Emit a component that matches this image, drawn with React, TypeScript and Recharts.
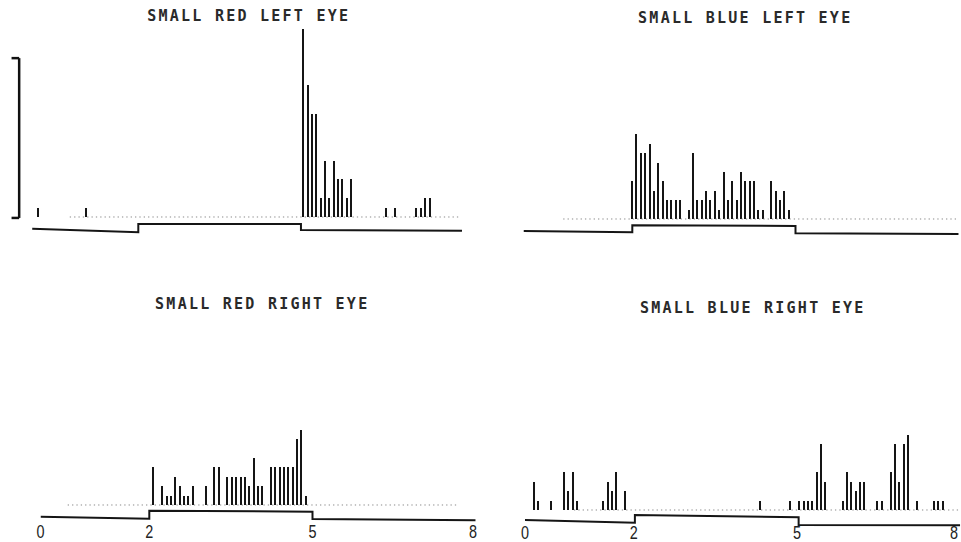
import React from "react"
import { Bar, ComposedChart, Line, ReferenceLine, XAxis, YAxis } from "recharts"

// 0.08 s bins, 8 s sweep, stimulus on from 2 s to 5 s
const BIN = 0.08
const tickLabels = [0, 2, 5, 8]

const redLeftBins = [2, 13, 63, 64, 65, 66, 67, 68, 69, 70, 71, 72, 73, 74, 82, 84, 89, 90, 91, 92]
const redLeftCounts = [1, 1, 20, 14, 11, 11, 2, 6, 2, 6, 4, 4, 2, 4, 1, 1, 1, 1, 2, 2]

const blueLeftBins = [
  25, 26, 27, 28, 29, 30, 31, 32, 33, 34, 35, 36,
  38, 39, 40, 41, 42, 43, 44, 45, 46, 47, 48, 49, 50, 51, 52, 53, 54, 55,
  57, 58, 59, 60, 61,
]
const blueLeftCounts = [
  4, 9, 7, 7, 8, 3, 6, 4, 2, 2, 2, 2,
  1, 7, 2, 2, 3, 2, 3, 1, 5, 2, 4, 2, 5, 4, 4, 4, 1, 1,
  4, 3, 2, 3, 1,
]

const redRightBins = [
  26, 28, 29, 30, 31, 32, 33, 34, 35, 38, 40, 41,
  43, 44, 45, 46, 47, 48, 49, 50, 51,
  53, 54, 55, 56, 57, 58, 59, 60, 61,
]
const redRightCounts = [
  4, 2, 1, 1, 3, 2, 1, 1, 2, 2, 4, 4,
  3, 3, 3, 3, 3, 2, 5, 2, 2,
  4, 4, 4, 4, 4, 4, 7, 8, 1,
]

const blueRightBins = [
  2, 3, 6, 9, 10, 11, 12, 18, 19, 20, 21, 23,
  54, 61, 63, 64, 65, 66, 67, 68, 69,
  73, 74, 75, 76, 77, 78, 81, 82, 84, 85, 86, 87, 88, 90, 94, 95, 96,
]
const blueRightCounts = [
  3, 1, 1, 4, 2, 4, 1, 1, 3, 2, 4, 2,
  1, 1, 1, 1, 1, 1, 4, 7, 3,
  1, 4, 3, 2, 3, 3, 1, 1, 4, 7, 3, 7, 8, 1, 1, 1, 1,
]

// stimulus monitor trace (seconds, level below the baseline in count units)
const redLeftTraceT = [0.05, 2, 2, 4.99, 4.99, 7.95]
const redLeftTraceV = [-1.24, -1.63, -0.74, -0.74, -1.38, -1.46]
const blueLeftTraceT = [0, 2, 2, 5, 5, 8]
const blueLeftTraceV = [-1.28, -1.41, -0.67, -0.74, -1.52, -1.6]
const redRightTraceT = [0, 2, 2, 5, 5, 8]
const redRightTraceV = [-1.24, -1.46, -0.61, -0.71, -1.49, -1.63]
const blueRightTraceT = [0, 2.02, 2.02, 5.03, 5.03, 8]
const blueRightTraceV = [-1.06, -1.35, -0.53, -0.78, -1.6, -1.63]

const SCALE_BAR = 16.9

const PX_PER_S = 54.4
const PX_PER_COUNT = 9.4
const Y_MIN = -2
const Y_MAX = 20

function Spike(props: any) {
  const { x, y, width, height, fill } = props
  if (!height) return null
  const cx = Math.round(x + width / 2)
  const top = Math.round(y)
  const bottom = Math.round(y + height)
  return <rect x={cx - 1} y={top} width={2} height={bottom - top} fill={fill} />
}

function DigitTick(props: any) {
  const { x, y, payload, dy, maxX } = props
  // keep the last digit inside the page
  const tx = maxX ? Math.min(x, maxX) : x
  return (
    <text
      x={0}
      y={0}
      transform={`translate(${tx},${y + (dy ?? 13)}) scale(0.8,1)`}
      textAnchor="middle"
      fontFamily="Liberation Sans"
      fontSize={18}
      fill="#222"
    >
      {payload.value}
    </text>
  )
}

type PanelProps = {
  title: string
  bins: number[]
  counts: number[]
  traceT: number[]
  traceV: number[]
  dots: [number, number]
  x0: number
  baseline: number
  left: number
  width: number
  titleX: number
  titleY: number
  showTicks?: boolean
  tickDy?: number
  scaleBar?: boolean
}

function Panel(p: PanelProps) {
  const data = p.bins.map((b, i) => ({ t: b * BIN, n: p.counts[i] }))
  const trace = p.traceT.map((t, i) => ({ t, v: p.traceV[i] }))
  const plotH = (Y_MAX - Y_MIN) * PX_PER_COUNT
  const top = p.baseline - Y_MAX * PX_PER_COUNT
  const axisH = p.showTicks ? 22 : 0
  const mLeft = p.x0 - p.left
  const mRight = p.width - mLeft - 8 * PX_PER_S

  return (
    <>
      <div
        style={{
          position: "absolute",
          left: p.titleX - 170,
          top: p.titleY,
          width: 340,
          textAlign: "center",
          fontFamily: "DejaVu Sans Mono",
          fontWeight: "bold",
          fontSize: 15,
          lineHeight: "15px",
          letterSpacing: 2.25,
          paddingLeft: 2.25,
          color: "#2a2a2a",
        }}
      >
        {p.title}
      </div>
      <div style={{ position: "absolute", left: p.left, top }}>
        <ComposedChart
          width={p.width}
          height={plotH + axisH}
          data={data}
          margin={{ top: 0, bottom: 0, left: mLeft, right: mRight }}
        >
          <XAxis
            type="number"
            dataKey="t"
            domain={[0, 8]}
            ticks={tickLabels}
            interval={0}
            hide={!p.showTicks}
            axisLine={false}
            tickLine={false}
            tickSize={0}
            tickMargin={0}
            height={axisH}
            tick={<DigitTick dy={p.tickDy} maxX={p.width - 7} />}
            allowDataOverflow
          />
          <YAxis type="number" domain={[Y_MIN, Y_MAX]} hide allowDataOverflow />
          <ReferenceLine
            segment={[
              { x: p.dots[0], y: 0 },
              { x: p.dots[1], y: 0 },
            ]}
            stroke="#8a8a8a"
            strokeWidth={1}
            strokeDasharray="1.3 3.05"
          />
          {p.scaleBar && (
            <ReferenceLine
              segment={[
                { x: -0.19, y: -0.1 },
                { x: -0.19, y: SCALE_BAR },
              ]}
              stroke="#111"
              strokeWidth={2.5}
              ifOverflow="visible"
            />
          )}
          {p.scaleBar && (
            <ReferenceLine
              segment={[
                { x: -0.33, y: SCALE_BAR },
                { x: -0.19, y: SCALE_BAR },
              ]}
              stroke="#111"
              strokeWidth={2.5}
              ifOverflow="visible"
            />
          )}
          {p.scaleBar && (
            <ReferenceLine
              segment={[
                { x: -0.33, y: -0.1 },
                { x: -0.19, y: -0.1 },
              ]}
              stroke="#111"
              strokeWidth={2.5}
              ifOverflow="visible"
            />
          )}
          <Bar dataKey="n" fill="#151515" barSize={2} shape={<Spike />} isAnimationActive={false} />
          <Line
            data={trace}
            dataKey="v"
            type="linear"
            stroke="#151515"
            strokeWidth={2}
            dot={false}
            activeDot={false}
            isAnimationActive={false}
          />
        </ComposedChart>
      </div>
    </>
  )
}

export default function App() {
  return (
    <div
      style={{
        position: "absolute",
        left: 0,
        top: 0,
        width: 961,
        height: 542,
        background: "#fff",
        overflow: "hidden",
      }}
    >
      <Panel
        title="SMALL RED LEFT EYE"
        bins={redLeftBins}
        counts={redLeftCounts}
        traceT={redLeftTraceT}
        traceV={redLeftTraceV}
        dots={[0.74, 7.9]}
        x0={29.5}
        baseline={217}
        left={0}
        width={480}
        titleX={246.5}
        titleY={9.3}
        scaleBar
      />
      <Panel
        title="SMALL BLUE LEFT EYE"
        bins={blueLeftBins}
        counts={blueLeftCounts}
        traceT={blueLeftTraceT}
        traceV={blueLeftTraceV}
        dots={[0.73, 8]}
        x0={523.5}
        baseline={219}
        left={480}
        width={481}
        titleX={743}
        titleY={10.8}
      />
      <Panel
        title="SMALL RED RIGHT EYE"
        bins={redRightBins}
        counts={redRightCounts}
        traceT={redRightTraceT}
        traceV={redRightTraceV}
        dots={[0.5, 7.65]}
        x0={40.5}
        baseline={505}
        left={0}
        width={480}
        titleX={260}
        titleY={296.5}
        showTicks
        tickDy={14}
      />
      <Panel
        title="SMALL BLUE RIGHT EYE"
        bins={blueRightBins}
        counts={blueRightCounts}
        traceT={blueRightTraceT}
        traceV={blueRightTraceV}
        dots={[0.9, 8]}
        x0={525}
        baseline={510}
        left={480}
        width={481}
        titleX={750.5}
        titleY={300.8}
        showTicks
        tickDy={10}
      />
    </div>
  )
}
